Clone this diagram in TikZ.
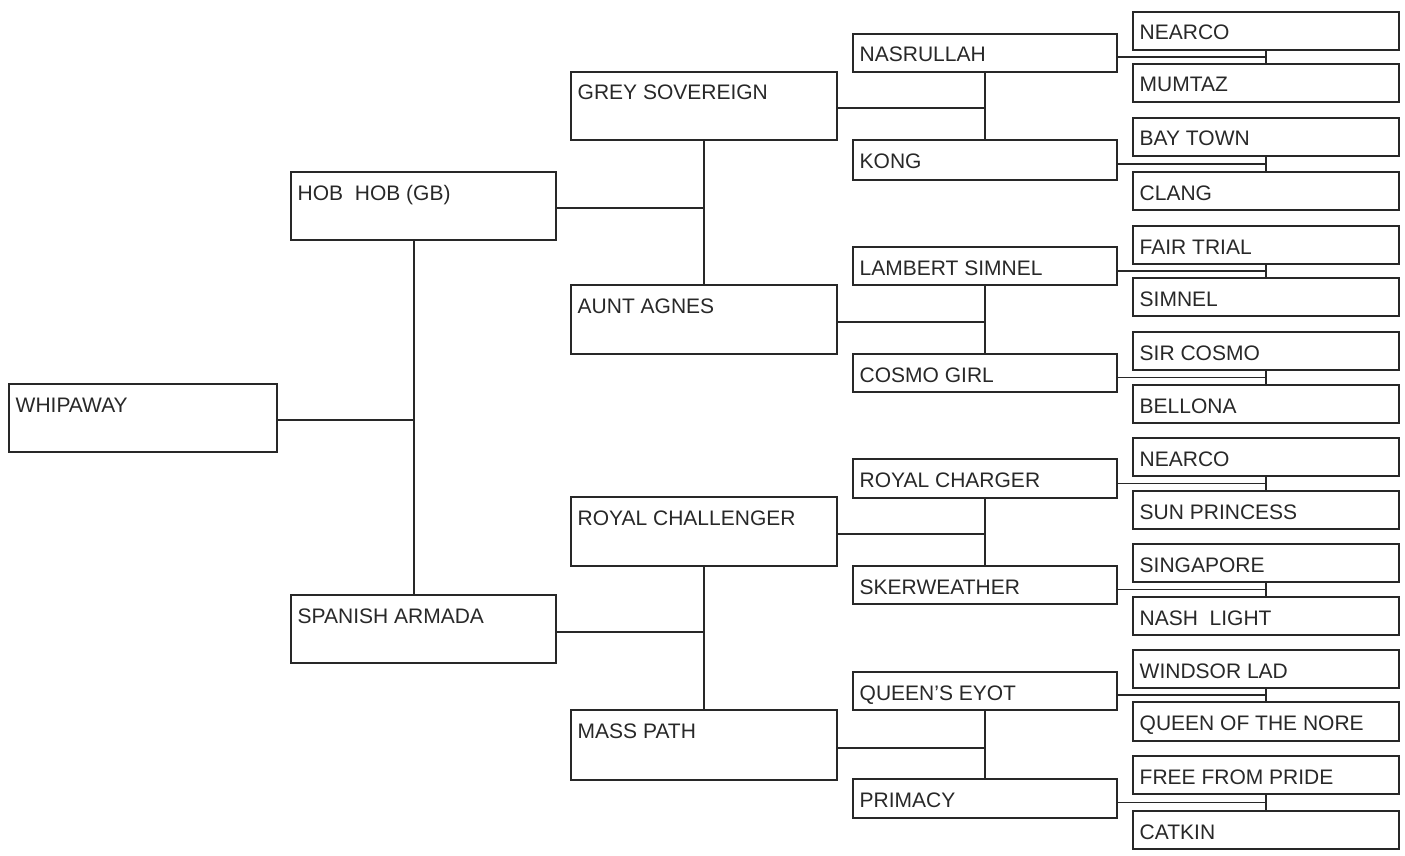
\documentclass[tikz,border=0pt]{standalone}
\usepackage{fontspec}
\setmainfont{Liberation Sans}
\usetikzlibrary{calc}
\definecolor{ln}{RGB}{40,40,40}
\tikzset{
  pbox/.style={draw=ln, line width=1.8pt, rectangle, inner sep=0pt, anchor=north west, minimum height=#1},
  pbox/.default=38pt,
  plbl/.style={anchor=base west, inner sep=0pt, text=ln, font=\fontsize{21}{24}\selectfont},
  conn/.style={draw=ln, line width=1.8pt}
}
\newcommand{\horse}[7]{% name, left, top, right, bottom, text
  \node[pbox=#5pt-#3pt, minimum width=#4pt-#2pt] (#1) at (#2,#3) {};
  \node[plbl] (#1t) at ([xshift=7.5pt,yshift=-29pt]#1.north west) {#6};
}
\begin{document}
\begin{tikzpicture}[x=1pt,y=-1pt]
\path[use as bounding box] (0,0) rectangle (1405,856);
% generation 0
\horse{w}{8}{383}{276}{451}{WHIPAWAY}{}
% generation 1
\horse{a}{290}{171}{555}{239}{HOB\ \ HOB (GB)}{}
\horse{b}{290}{594}{555}{662}{SPANISH ARMADA}{}
% generation 2
\horse{aa}{570}{71}{836}{139}{GREY SOVEREIGN}{}
\horse{ab}{570}{284}{836}{353}{AUNT AGNES}{}
\horse{ba}{570}{496}{836}{565}{ROYAL CHALLENGER}{}
\horse{bb}{570}{709}{836}{779}{MASS PATH}{}
% generation 3
\horse{aaa}{852}{33}{1116}{71}{NASRULLAH}{}
\horse{aab}{852}{139}{1116}{179}{KONG}{}
\horse{aba}{852}{246}{1116}{284}{LAMBERT SIMNEL}{}
\horse{abb}{852}{353}{1116}{391}{COSMO GIRL}{}
\horse{baa}{852}{458}{1116}{497}{ROYAL CHARGER}{}
\horse{bab}{852}{565}{1116}{603}{SKERWEATHER}{}
\horse{bba}{852}{671}{1116}{709}{QUEEN'S EYOT}{}
\horse{bbb}{852}{778}{1116}{817}{PRIMACY}{}
% generation 4
\horse{aaaa}{1132}{11}{1398}{49}{NEARCO}{}
\horse{aaab}{1132}{63}{1398}{101}{MUMTAZ}{}
\horse{aaba}{1132}{117}{1398}{155}{BAY TOWN}{}
\horse{aabb}{1132}{171}{1398}{209}{CLANG}{}
\horse{abaa}{1132}{225}{1398}{263}{FAIR TRIAL}{}
\horse{abab}{1132}{277}{1398}{315}{SIMNEL}{}
\horse{abba}{1132}{331}{1398}{369}{SIR COSMO}{}
\horse{abbb}{1132}{384}{1398}{422}{BELLONA}{}
\horse{baaa}{1132}{437}{1398}{475}{NEARCO}{}
\horse{baab}{1132}{490}{1398}{528}{SUN PRINCESS}{}
\horse{baba}{1132}{543}{1398}{581}{SINGAPORE}{}
\horse{babb}{1132}{596}{1398}{634}{NASH\ \ LIGHT}{}
\horse{bbaa}{1132}{649}{1398}{687}{WINDSOR LAD}{}
\horse{bbab}{1132}{701}{1398}{740}{QUEEN OF THE NORE}{}
\horse{bbba}{1132}{755}{1398}{793}{FREE FROM PRIDE}{}
\horse{bbbb}{1132}{810}{1398}{848}{CATKIN}{}
% connectors gen0 -> gen1
\coordinate (va) at ([xshift=124pt]a.south west);
\coordinate (vb) at (va |- b.north);
\draw[conn] (va) -- (vb);
\draw[conn] ([yshift=-37pt]w.north east) -- ([yshift=-37pt]w.north east -| va);
% gen1 -> gen2
\draw[conn] (aa.south) -- (ab.north);
\draw[conn] (ba.south) -- (bb.north);
\draw[conn] ([yshift=-37pt]a.north east) -- ([yshift=-37pt]a.north east -| aa.south);
\draw[conn] ([yshift=-38pt]b.north east) -- ([yshift=-38pt]b.north east -| ba.south);
% gen2 -> gen3
\foreach \p/\s/\d/\o in {aa/aaa/aab/37, ab/aba/abb/38, ba/baa/bab/38, bb/bba/bbb/39}{
  \draw[conn] (\s.south) -- (\d.north);
  \draw[conn] ([yshift=-\o pt]\p.north east) -- ([yshift=-\o pt]\p.north east -| \s.south);
}
% gen3 -> gen4
\foreach \p/\s/\d in {aaa/aaaa/aaab, aab/aaba/aabb, aba/abaa/abab, abb/abba/abbb,
                      baa/baaa/baab, bab/baba/babb, bba/bbaa/bbab, bbb/bbba/bbbb}{
  \draw[conn] (\s.south) -- (\d.north);
  \coordinate (m\p) at ($(\s.south)!0.5!(\d.north)$);
  \draw[conn] (m\p -| \p.east) -- (m\p);
}
\end{tikzpicture}
\end{document}
